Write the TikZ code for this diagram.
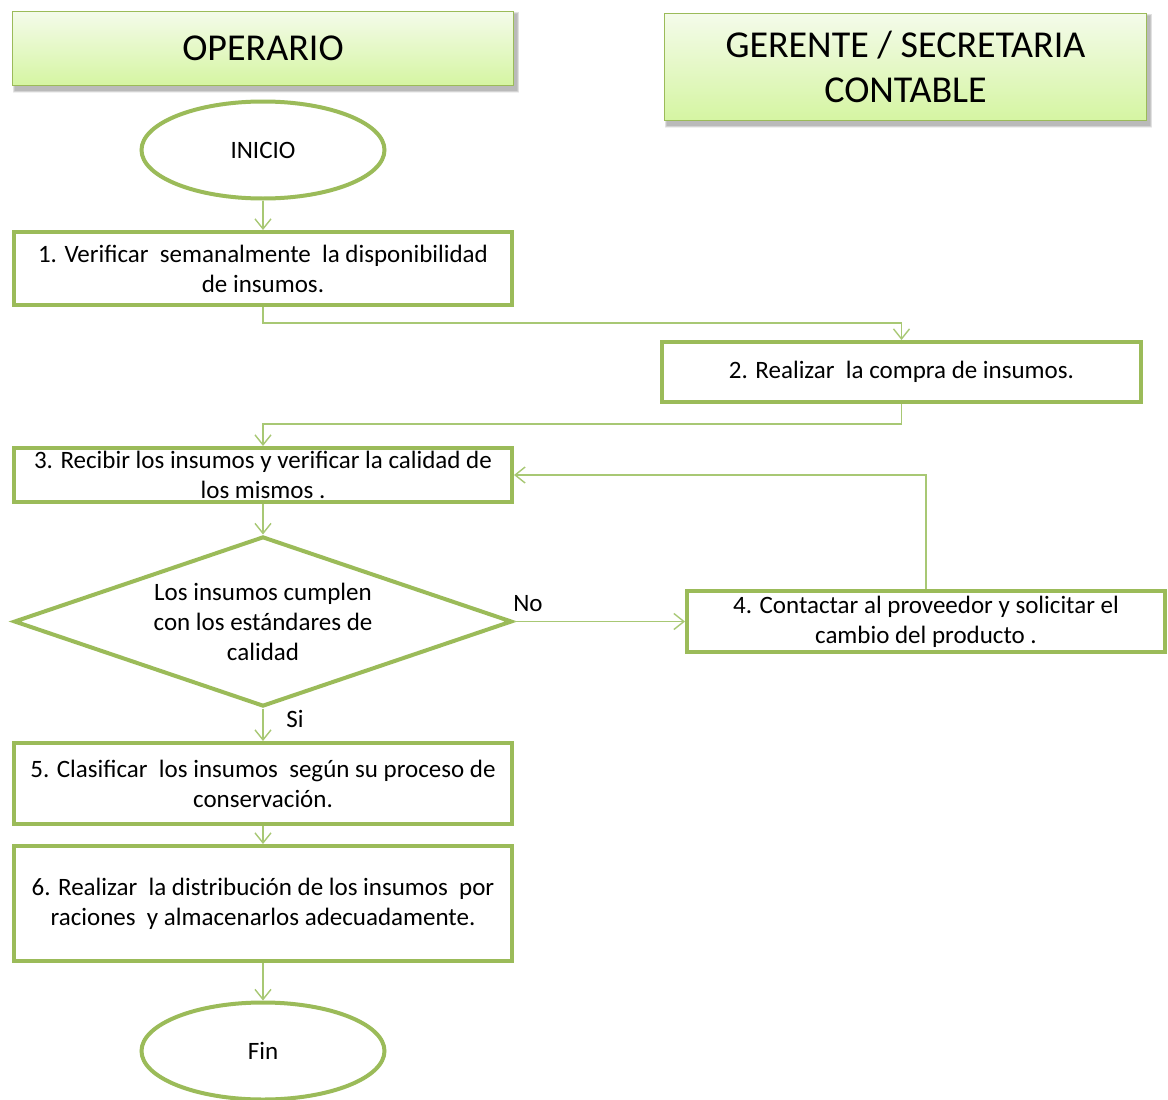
\documentclass[tikz,border=0pt]{standalone}
\usepackage{fontspec}
\setmainfont{Carlito}
\usetikzlibrary{shapes.geometric,arrows.meta}
\definecolor{leaf}{HTML}{9BBB59}
\definecolor{leaflight}{HTML}{A8C874}
\definecolor{headtop}{HTML}{F4FBEA}
\definecolor{headbot}{HTML}{D5F5A2}
\tikzset{
  boxtext/.style={font=\fontsize{25}{30}\selectfont},
  stepbox/.style={draw=leaf, line width=4pt, fill=white, rectangle, align=center, boxtext, inner sep=0pt},
  terminal/.style={draw=leaf, line width=4pt, fill=white, ellipse, minimum width=243pt, minimum height=97pt, boxtext, inner sep=0pt},
  decision/.style={draw=leaf, line width=4pt, fill=white, diamond, minimum width=498pt, minimum height=170pt, inner sep=0pt},
  header/.style={draw=leaf, line width=1.5pt, top color=headtop, bottom color=headbot, rectangle, align=center, font=\fontsize{38}{45}\selectfont, inner sep=0pt},
  conn/.style={draw=leaflight, line width=1.6pt, -{Straight Barb[length=10pt, width=16pt, line width=1.4pt]}},
  lbl/.style={boxtext, inner sep=0pt, align=center}
}
\newcommand{\softshadow}[4]{%
  \foreach \k in {1,...,5}{%
    \fill[black, opacity=0.06] (#1+3-\k*0.4, #2+3-\k*0.4) rectangle (#3+3+\k*0.4, #4+4+\k*0.6);
  }%
}
\begin{document}
\begin{tikzpicture}[x=1pt, y=-1pt]
  \useasboundingbox (0,0) rectangle (1168,1100);
  \fill[white] (0,0) rectangle (1168,1100);

  % swimlane headers with soft shadow
  \softshadow{12}{11}{514}{86}
  \softshadow{664}{13}{1147}{121}
  \node[header, minimum width=501pt, minimum height=74pt] (hop) at (263,48.5) {OPERARIO};
  \node[header, minimum width=482pt, minimum height=107pt] (hger) at (905.5,67) {GERENTE / SECRETARIA\\CONTABLE};

  % process steps
  \node[terminal] (ini) at (263,150) {INICIO};
  \node[stepbox, minimum width=498pt, minimum height=73pt] (s1) at (263,268.5)
    {1. Verificar\ \ semanalmente\ \ la disponibilidad\\de insumos.};
  \node[stepbox, minimum width=479pt, minimum height=60pt] (s2) at (901.5,372)
    {2. Realizar\ \ la compra de insumos.};
  \node[stepbox, minimum width=498pt, minimum height=54pt] (s3) at (263,475)
    {3. Recibir los insumos y verificar la calidad de\\los mismos .};
  \node[decision] (q) at (263,621.5) {};
  \node[lbl] (qtext) at (q.center)
    {Los insumos cumplen\\con los estándares de\\calidad};
  \node[stepbox, minimum width=478pt, minimum height=61pt] (s4) at (926,621.5)
    {4. Contactar al proveedor y solicitar el\\cambio del producto .};
  \node[stepbox, minimum width=498pt, minimum height=81pt] (s5) at (263,783.5)
    {5. Clasificar\ \ los insumos\ \ según su proceso de\\conservación.};
  \node[stepbox, minimum width=498pt, minimum height=115pt] (s6) at (263,903.5)
    {6. Realizar\ \ la distribución de los insumos\ \ por\\raciones\ \ y almacenarlos adecuadamente.};
  \node[terminal] (fin) at (263,1051) {Fin};

  % branch labels
  \node[lbl] (no) at (528,604) {No};
  \node[lbl] (si) at (295,719) {Si};

  % connectors
  \draw[conn] (ini.south) -- (s1.north);
  \draw[conn] (s1.south) -- ++(0,16) -| (s2.north);
  \draw[conn] (s2.south) -- ++(0,20) -| (s3.north);
  \draw[conn] (s3.south) -- (q.north);
  \draw[conn] (q.east) -- (s4.west);
  \draw[conn] (s4.north) |- (s3.east);
  \draw[conn] (q.south) -- (s5.north);
  \draw[conn] (s5.south) -- (s6.north);
  \draw[conn] (s6.south) -- (fin.north);
\end{tikzpicture}
\end{document}
